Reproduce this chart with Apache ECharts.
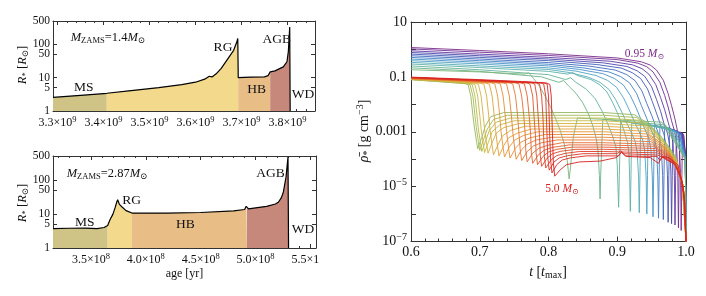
<!DOCTYPE html>
<html><head><meta charset="utf-8">
<script src="https://cdn.jsdelivr.net/npm/echarts@6/dist/echarts.min.js"></script>
<style>html,body{margin:0;padding:0;background:#fff}#c{width:706px;height:296px}</style>
</head><body><div id="c"></div>
<script>
const SERIF = "'Liberation Serif','DejaVu Serif','Times New Roman',serif";

// ---------- Left panels: stellar radius vs age ----------
const phaseNames = ['MS', 'RG', 'HB', 'AGB'];
const phaseColors = ['#cfc486', '#f3d98b', '#e8bd86', '#c5887a'];

// M_ZAMS = 1.4 Msun
const topAge = [3.29e9, 3.35e9, 3.407e9, 3.46e9, 3.52e9, 3.57e9, 3.60e9, 3.62e9, 3.63e9, 3.636e9, 3.645e9, 3.656e9, 3.668e9, 3.683e9, 3.69e9, 3.692e9, 3.693e9, 3.72e9, 3.75e9, 3.758e9, 3.7625e9, 3.773e9, 3.791e9, 3.799e9, 3.802e9, 3.805e9, 3.806e9, 3.806e9];
const topRadius = [2.56, 2.95, 3.4, 4.1, 5.0, 6.2, 7.3, 9.0, 11.0, 10.5, 13, 19, 33, 66, 120, 150, 10, 10.4, 10.6, 11.5, 14.9, 16, 21, 30, 60, 330, 330, 1];
const topPhaseEdges = [3.29e9, 3.407e9, 3.693e9, 3.7625e9, 3.806e9];
const topXTicks = [3.3e9, 3.4e9, 3.5e9, 3.6e9, 3.7e9, 3.8e9];
const topXLabels = ['3.3', '3.4', '3.5', '3.6', '3.7', '3.8'];
const topXExp = '9';

// M_ZAMS = 2.87 Msun
const botAge = [3.155e8, 3.3e8, 3.45e8, 3.556e8, 3.62e8, 3.653e8, 3.672e8, 3.684e8, 3.69e8, 3.70e8, 3.72e8, 3.735e8, 3.744e8, 3.76e8, 3.784e8, 3.82e8, 3.874e8, 4.19e8, 4.5e8, 4.8e8, 4.9e8, 4.914e8, 4.92e8, 4.936e8, 5.0e8, 5.10e8, 5.18e8, 5.207e8, 5.235e8, 5.253e8, 5.277e8, 5.295e8, 5.30e8, 5.30e8];
const botRadius = [3.7, 3.8, 3.85, 3.7, 4.0, 4.6, 6.5, 7.8, 8.2, 9.7, 15, 22, 26, 19, 16, 12.5, 10.6, 10.6, 11, 12.2, 13.5, 16.7, 15, 14, 15, 16.7, 19.5, 22, 30, 44, 120, 465, 480, 1];
const botPhaseEdges = [3.155e8, 3.653e8, 3.874e8, 4.92e8, 5.30e8];
const botXTicks = [3.5e8, 4.0e8, 4.5e8, 5.0e8, 5.5e8];
const botXLabels = ['3.5', '4.0', '4.5', '5.0', '5.5'];
const botXExp = '8';

const radiusTicks = [1, 5, 10, 50, 100, 500];

// ---------- Right panel: mean density vs t/t_max, [t, log10 rho] ----------
const m095 = [[0.6,0.07],[0.7,-0.04],[0.8,-0.16],[0.9,-0.31],[0.935,-0.45],[0.948,-0.57],[0.957,-0.75],[0.967,-1.12],[0.974,-1.61],[0.979,-2.05],[0.984,-2.54],[0.987,-2.9],[0.990,-3.3],[0.992,-4.5],[0.993,-6.6],[0.994,-4.6],[0.995,-3.05],[0.997,-3.15],[0.999,-3.8],[1.0,-7]];
const m105 = [[0.6,0.02],[0.7,-0.10],[0.8,-0.22],[0.9,-0.37],[0.93,-0.5],[0.943,-0.63],[0.952,-0.82],[0.962,-1.2],[0.969,-1.68],[0.974,-2.1],[0.979,-2.6],[0.983,-2.95],[0.986,-3.35],[0.988,-4.5],[0.989,-6.5],[0.990,-4.6],[0.991,-3.0],[0.996,-3.1],[0.999,-3.8],[1.0,-7]];
const m115 = [[0.6,-0.05],[0.7,-0.17],[0.8,-0.29],[0.89,-0.43],[0.922,-0.56],[0.936,-0.7],[0.946,-0.9],[0.956,-1.28],[0.963,-1.75],[0.969,-2.2],[0.974,-2.65],[0.978,-3.0],[0.981,-3.4],[0.983,-4.5],[0.984,-6.4],[0.985,-4.6],[0.986,-2.95],[0.995,-3.1],[0.999,-3.8],[1.0,-7]];
const m125 = [[0.6,-0.11],[0.7,-0.23],[0.8,-0.35],[0.88,-0.49],[0.914,-0.62],[0.929,-0.78],[0.94,-0.98],[0.95,-1.36],[0.957,-1.82],[0.963,-2.25],[0.968,-2.7],[0.973,-3.05],[0.976,-3.45],[0.978,-4.5],[0.979,-6.35],[0.980,-4.6],[0.981,-2.9],[0.994,-3.1],[0.999,-3.85],[1.0,-7]];
const m135 = [[0.6,-0.17],[0.7,-0.29],[0.8,-0.41],[0.87,-0.55],[0.906,-0.68],[0.922,-0.85],[0.934,-1.06],[0.944,-1.44],[0.951,-1.9],[0.957,-2.32],[0.963,-2.75],[0.968,-3.1],[0.971,-3.5],[0.973,-4.55],[0.974,-6.3],[0.975,-4.6],[0.976,-2.86],[0.993,-3.1],[0.999,-3.85],[1.0,-7]];
const m145 = [[0.6,-0.23],[0.7,-0.35],[0.8,-0.48],[0.86,-0.61],[0.897,-0.75],[0.914,-0.92],[0.926,-1.14],[0.936,-1.52],[0.943,-1.97],[0.95,-2.4],[0.956,-2.8],[0.961,-3.15],[0.964,-3.55],[0.966,-4.6],[0.967,-6.2],[0.968,-4.6],[0.969,-2.82],[0.992,-3.05],[0.999,-3.9],[1.0,-7]];
const m155 = [[0.6,-0.29],[0.7,-0.41],[0.8,-0.54],[0.85,-0.67],[0.888,-0.82],[0.905,-0.99],[0.918,-1.22],[0.928,-1.6],[0.935,-2.04],[0.942,-2.46],[0.948,-2.85],[0.954,-3.2],[0.957,-3.6],[0.959,-4.65],[0.960,-6.15],[0.961,-4.6],[0.962,-2.78],[0.99,-3.05],[0.999,-3.9],[1.0,-7]];
const m165 = [[0.6,-0.35],[0.7,-0.47],[0.8,-0.60],[0.845,-0.73],[0.879,-0.88],[0.896,-1.06],[0.909,-1.3],[0.919,-1.68],[0.927,-2.1],[0.934,-2.52],[0.94,-2.9],[0.946,-3.25],[0.949,-3.65],[0.951,-4.65],[0.952,-6.1],[0.953,-4.6],[0.954,-2.75],[0.988,-3.0],[0.999,-3.9],[1.0,-7]];
const m175 = [[0.6,-0.41],[0.7,-0.53],[0.8,-0.67],[0.84,-0.79],[0.869,-0.95],[0.886,-1.13],[0.899,-1.38],[0.909,-1.76],[0.917,-2.18],[0.924,-2.58],[0.931,-2.95],[0.937,-3.3],[0.94,-3.7],[0.942,-4.65],[0.943,-6.0],[0.944,-4.6],[0.945,-2.72],[0.985,-3.0],[0.999,-3.95],[1.0,-7]];
const m185 = [[0.6,-0.47],[0.7,-0.60],[0.8,-0.73],[0.83,-0.84],[0.858,-1.01],[0.875,-1.2],[0.888,-1.46],[0.898,-1.84],[0.906,-2.25],[0.913,-2.64],[0.92,-3.0],[0.926,-3.35],[0.929,-3.75],[0.931,-4.65],[0.932,-5.95],[0.933,-4.6],[0.934,-2.7],[0.982,-2.95],[0.999,-3.95],[1.0,-7]];
const m195 = [[0.6,-0.53],[0.7,-0.66],[0.8,-0.80],[0.828,-0.9],[0.835,-0.84],[0.842,-0.95],[0.862,-1.1],[0.875,-1.3],[0.885,-1.55],[0.893,-1.92],[0.9,-2.3],[0.906,-2.68],[0.911,-3.05],[0.915,-3.4],[0.917,-3.8],[0.918,-4.65],[0.919,-5.9],[0.920,-4.6],[0.921,-2.68],[0.978,-2.9],[0.999,-4.0],[1.0,-7]];
const m200 = [[0.6,-0.60],[0.7,-0.74],[0.8,-0.92],[0.825,-1.1],[0.832,-1.03],[0.84,-1.2],[0.855,-1.45],[0.868,-1.8],[0.878,-2.25],[0.886,-2.7],[0.893,-3.15],[0.898,-3.55],[0.900,-4.2],[0.901,-5.0],[0.902,-5.75],[0.903,-4.6],[0.905,-2.62],[0.975,-2.85],[0.999,-4.0],[1.0,-7]];
const m210 = [[0.6,-0.67],[0.7,-0.8],[0.79,-1.0],[0.815,-1.2],[0.822,-1.13],[0.83,-1.35],[0.84,-1.6],[0.85,-1.95],[0.858,-2.35],[0.864,-2.75],[0.869,-3.2],[0.872,-3.7],[0.874,-4.6],[0.875,-5.45],[0.876,-4.5],[0.879,-2.55],[0.97,-2.75],[0.999,-4.0],[1.0,-7]];
const m220 = [[0.6,-0.74],[0.7,-0.82],[0.765,-0.9],[0.771,-0.85],[0.778,-1.05],[0.787,-1.35],[0.795,-1.7],[0.803,-2.1],[0.81,-2.5],[0.817,-2.95],[0.823,-3.45],[0.827,-4.0],[0.83,-4.72],[0.832,-4.3],[0.836,-3.2],[0.842,-2.5],[0.965,-2.65],[0.999,-4.0],[1.0,-7]];
const m230 = [[0.6,-1.10],[0.643,-1.18],[0.678,-1.24],[0.683,-1.28],[0.687,-1.7],[0.690,-2.4],[0.692,-2.8],[0.695,-3.3],[0.697,-3.62],[0.703,-3.2],[0.708,-2.8],[0.716,-2.45],[0.735,-2.3],[0.88,-2.3],[0.925,-2.38],[0.945,-2.7],[0.965,-3.2],[0.985,-3.9],[0.995,-5],[1.0,-7]];
const m245 = [[0.6,-1.10],[0.646,-1.18],[0.681,-1.25],[0.686,-1.29],[0.690,-1.7],[0.693,-2.4],[0.695,-2.85],[0.698,-3.35],[0.700,-3.68],[0.706,-3.25],[0.711,-2.9],[0.72,-2.55],[0.74,-2.4],[0.88,-2.4],[0.928,-2.48],[0.948,-2.8],[0.967,-3.3],[0.986,-4.0],[0.995,-5],[1.0,-7]];
const m260 = [[0.6,-1.09],[0.649,-1.17],[0.684,-1.24],[0.689,-1.28],[0.693,-1.7],[0.696,-2.4],[0.698,-2.9],[0.701,-3.4],[0.703,-3.72],[0.709,-3.3],[0.714,-2.95],[0.724,-2.65],[0.745,-2.5],[0.88,-2.5],[0.931,-2.58],[0.951,-2.9],[0.969,-3.4],[0.986,-4.05],[0.995,-5],[1.0,-7]];
const m275 = [[0.6,-1.09],[0.653,-1.17],[0.688,-1.24],[0.693,-1.28],[0.697,-1.7],[0.700,-2.4],[0.702,-2.9],[0.705,-3.42],[0.707,-3.76],[0.713,-3.35],[0.718,-3.0],[0.729,-2.75],[0.75,-2.6],[0.88,-2.6],[0.934,-2.68],[0.953,-3.0],[0.971,-3.5],[0.987,-4.1],[0.995,-5],[1.0,-7]];
const m290 = [[0.6,-1.08],[0.658,-1.16],[0.693,-1.23],[0.698,-1.27],[0.702,-1.7],[0.705,-2.4],[0.707,-2.9],[0.710,-3.45],[0.712,-3.78],[0.718,-3.4],[0.724,-3.05],[0.735,-2.85],[0.757,-2.7],[0.88,-2.7],[0.937,-2.78],[0.955,-3.1],[0.972,-3.6],[0.987,-4.15],[0.995,-5],[1.0,-7]];
const m305 = [[0.6,-1.08],[0.666,-1.16],[0.701,-1.23],[0.706,-1.27],[0.710,-1.7],[0.713,-2.4],[0.715,-2.95],[0.718,-3.5],[0.720,-3.84],[0.727,-3.45],[0.733,-3.15],[0.745,-2.95],[0.766,-2.8],[0.88,-2.8],[0.939,-2.88],[0.957,-3.2],[0.973,-3.65],[0.988,-4.2],[0.995,-5],[1.0,-7]];
const m320 = [[0.6,-1.07],[0.674,-1.16],[0.709,-1.23],[0.714,-1.27],[0.718,-1.7],[0.721,-2.4],[0.723,-2.95],[0.726,-3.55],[0.728,-3.88],[0.735,-3.5],[0.742,-3.22],[0.755,-3.05],[0.775,-2.9],[0.88,-2.9],[0.941,-2.98],[0.958,-3.3],[0.974,-3.7],[0.988,-4.25],[0.996,-5],[1.0,-7]];
const m335 = [[0.6,-1.07],[0.682,-1.16],[0.717,-1.22],[0.722,-1.26],[0.726,-1.7],[0.729,-2.4],[0.731,-3.0],[0.734,-3.58],[0.736,-3.92],[0.743,-3.55],[0.751,-3.3],[0.764,-3.13],[0.785,-3.0],[0.88,-3.0],[0.943,-3.08],[0.96,-3.35],[0.975,-3.75],[0.989,-4.3],[0.996,-5],[1.0,-7]];
const m350 = [[0.6,-1.06],[0.69,-1.16],[0.725,-1.22],[0.730,-1.26],[0.734,-1.7],[0.737,-2.4],[0.739,-3.0],[0.742,-3.6],[0.744,-3.96],[0.752,-3.6],[0.76,-3.38],[0.773,-3.22],[0.795,-3.1],[0.88,-3.1],[0.945,-3.17],[0.961,-3.42],[0.976,-3.8],[0.989,-4.35],[0.996,-5],[1.0,-7]];
const m365 = [[0.6,-1.06],[0.699,-1.17],[0.734,-1.22],[0.739,-1.26],[0.743,-1.7],[0.746,-2.4],[0.748,-3.0],[0.751,-3.65],[0.753,-4.0],[0.761,-3.65],[0.769,-3.45],[0.782,-3.3],[0.805,-3.2],[0.88,-3.2],[0.947,-3.26],[0.962,-3.5],[0.977,-3.85],[0.99,-4.4],[0.996,-5],[1.0,-7]];
const m380 = [[0.6,-1.05],[0.708,-1.17],[0.743,-1.22],[0.748,-1.26],[0.752,-1.7],[0.755,-2.4],[0.757,-3.05],[0.759,-3.7],[0.761,-4.05],[0.769,-3.72],[0.778,-3.52],[0.79,-3.4],[0.812,-3.3],[0.88,-3.3],[0.949,-3.36],[0.963,-3.58],[0.978,-3.9],[0.99,-4.45],[0.996,-5],[1.0,-7]];
const m395 = [[0.6,-1.05],[0.717,-1.17],[0.752,-1.22],[0.757,-1.26],[0.761,-1.7],[0.764,-2.4],[0.766,-3.05],[0.767,-3.7],[0.769,-4.1],[0.777,-3.78],[0.786,-3.6],[0.798,-3.5],[0.82,-3.4],[0.88,-3.4],[0.951,-3.45],[0.964,-3.65],[0.979,-3.95],[0.991,-4.5],[0.997,-5.2],[1.0,-7]];
const m410 = [[0.6,-1.04],[0.725,-1.17],[0.760,-1.22],[0.765,-1.26],[0.769,-1.7],[0.772,-2.45],[0.774,-3.1],[0.775,-3.75],[0.777,-4.15],[0.785,-3.85],[0.794,-3.67],[0.806,-3.57],[0.83,-3.48],[0.88,-3.48],[0.953,-3.53],[0.965,-3.72],[0.98,-4.0],[0.991,-4.55],[0.997,-5.2],[1.0,-7]];
const m425 = [[0.6,-1.04],[0.733,-1.18],[0.768,-1.22],[0.773,-1.26],[0.777,-1.7],[0.779,-2.45],[0.781,-3.15],[0.782,-3.8],[0.784,-4.2],[0.792,-3.9],[0.8,-3.74],[0.812,-3.64],[0.835,-3.56],[0.88,-3.56],[0.955,-3.61],[0.966,-3.78],[0.981,-4.05],[0.992,-4.6],[0.997,-5.2],[1.0,-7]];
const m440 = [[0.6,-1.03],[0.74,-1.18],[0.775,-1.22],[0.780,-1.26],[0.783,-1.7],[0.785,-2.45],[0.787,-3.2],[0.788,-3.85],[0.790,-4.26],[0.798,-3.96],[0.806,-3.8],[0.818,-3.71],[0.84,-3.64],[0.88,-3.64],[0.957,-3.69],[0.967,-3.85],[0.982,-4.1],[0.992,-4.65],[0.997,-5.3],[1.0,-7]];
const m455 = [[0.6,-1.03],[0.747,-1.18],[0.782,-1.22],[0.787,-1.26],[0.790,-1.7],[0.792,-2.5],[0.793,-3.2],[0.794,-3.9],[0.796,-4.32],[0.804,-4.02],[0.812,-3.87],[0.824,-3.79],[0.845,-3.72],[0.88,-3.72],[0.958,-3.77],[0.968,-3.92],[0.983,-4.15],[0.993,-4.7],[0.997,-5.3],[1.0,-7]];
const m470 = [[0.6,-1.02],[0.753,-1.18],[0.788,-1.22],[0.793,-1.26],[0.796,-1.7],[0.797,-2.5],[0.798,-3.25],[0.799,-3.95],[0.801,-4.4],[0.808,-4.1],[0.816,-3.95],[0.828,-3.87],[0.85,-3.8],[0.9,-3.8],[0.905,-3.7],[0.91,-3.8],[0.959,-3.85],[0.969,-3.98],[0.984,-4.2],[0.993,-4.75],[0.998,-5.5],[1.0,-7]];
const m485 = [[0.6,-1.02],[0.758,-1.18],[0.793,-1.22],[0.798,-1.26],[0.800,-1.7],[0.801,-2.5],[0.802,-3.3],[0.803,-4.0],[0.805,-4.5],[0.812,-4.2],[0.82,-4.03],[0.832,-3.95],[0.855,-3.88],[0.902,-3.88],[0.906,-3.75],[0.912,-3.88],[0.958,-3.9],[0.962,-4.05],[0.966,-3.92],[0.985,-4.2],[0.994,-4.8],[0.998,-5.5],[1.0,-7]];
const m500 = [[0.6,-1.01],[0.70,-1.1],[0.762,-1.17],[0.797,-1.22],[0.802,-1.28],[0.804,-1.7],[0.805,-2.5],[0.806,-3.3],[0.807,-4.1],[0.809,-4.62],[0.817,-4.39],[0.826,-4.2],[0.845,-4.1],[0.875,-4.07],[0.899,-3.94],[0.906,-3.74],[0.913,-3.9],[0.948,-3.94],[0.96,-4.15],[0.965,-3.9],[0.975,-3.95],[0.988,-4.2],[0.995,-4.9],[0.998,-5.6],[1.0,-7]];

const tracks = [m095, m105, m115, m125, m135, m145, m155, m165, m175, m185, m195, m200, m210, m220,
  m230, m245, m260, m275, m290, m305, m320, m335, m350, m365, m380, m395, m410, m425, m440, m455, m470, m485, m500];
const trackColors = ['#7b2b8a','#6f2f95','#5e38a2','#4c47ad','#4259b6','#3f6cc0','#4280c6','#4892c8','#50a2c4','#58acb8','#5eb0a8','#64b298','#6cb38a','#7cb67a',
  '#92b85e','#a6ba52','#b8bb48','#c8b942','#d4b33e','#dca93b','#e2a039','#e69637','#e88c35','#e88233','#e87831','#e66c2f','#e4602d','#e2542b','#e04829','#de3e27','#dc3425','#da2a23','#d92120'];

const rhoTicks = [1e-7, 1e-6, 1e-5, 1e-4, 1e-3, 1e-2, 1e-1, 1, 10];
const rhoLabelValues = [10, 0.1, 0.001, 1e-5, 1e-7];
const rhoLabels = ['10', '0.1', '0.001', '10{sup|−5}', '10{sup|−7}'];
const tTicks = [0.6, 0.7, 0.8, 0.9, 1.0];
const tLabels = ['0.6', '0.7', '0.8', '0.9', '1.0'];

// ---------- helpers ----------
function steps(a, b, d) { const o = []; for (let v = a; v <= b + d * 1e-6; v += d) o.push(+v.toPrecision(10)); return o; }
function idxOf(arr, v, log) {
  for (let i = 0; i < arr.length; i++) {
    if (log ? Math.abs(Math.log10(arr[i]) - Math.log10(v)) < 1e-6 : Math.abs(arr[i] - v) <= Math.abs(v) * 1e-9) return i;
  }
  return -1;
}
const LC = '#333';
const tickStyle = { color: LC, width: 1 };

function xAxisSet(grid, min, max, majors, minors, labelFn) {
  return [
    { gridIndex: grid, type: 'value', min, max, position: 'bottom',
      axisLine: { show: true, onZero: false, lineStyle: { color: LC } },
      axisTick: { show: true, inside: true, length: 4, customValues: majors, lineStyle: tickStyle },
      axisLabel: { show: true, customValues: majors, formatter: labelFn, fontFamily: SERIF, fontSize: 12, color: '#111', margin: 4,
        rich: { sup: { fontFamily: SERIF, fontSize: 8.5, color: '#111', padding: [0, 0, 7, 0] } } },
      splitLine: { show: false } },
    { gridIndex: grid, type: 'value', min, max, position: 'bottom',
      axisLine: { show: false }, axisLabel: { show: false }, splitLine: { show: false },
      axisTick: { show: true, inside: true, length: 2, customValues: minors, lineStyle: tickStyle } },
    { gridIndex: grid, type: 'value', min, max, position: 'top',
      axisLine: { show: true, onZero: false, lineStyle: { color: LC } }, axisLabel: { show: false }, splitLine: { show: false },
      axisTick: { show: true, inside: true, length: 4, customValues: majors, lineStyle: tickStyle } },
    { gridIndex: grid, type: 'value', min, max, position: 'top',
      axisLine: { show: false }, axisLabel: { show: false }, splitLine: { show: false },
      axisTick: { show: true, inside: true, length: 2, customValues: minors, lineStyle: tickStyle } }
  ];
}
function radiusAxes(grid) {
  return [
    { gridIndex: grid, type: 'log', logBase: 10, min: 1, max: 500, position: 'left',
      axisLine: { show: true, onZero: false, lineStyle: { color: LC } },
      axisTick: { show: true, inside: true, length: 4, customValues: radiusTicks, lineStyle: tickStyle },
      axisLabel: { show: true, customValues: radiusTicks, formatter: v => String(radiusTicks[idxOf(radiusTicks, v, true)]),
        fontFamily: SERIF, fontSize: 11.5, color: '#111', margin: 3 },
      splitLine: { show: false } },
    { gridIndex: grid, type: 'log', logBase: 10, min: 1, max: 500, position: 'right',
      axisLine: { show: true, onZero: false, lineStyle: { color: LC } }, axisLabel: { show: false }, splitLine: { show: false },
      axisTick: { show: true, inside: true, length: 4, customValues: radiusTicks, lineStyle: tickStyle } }
  ];
}
const topFmt = v => topXLabels[idxOf(topXTicks, v)] + '×10{sup|' + topXExp + '}';
const botFmt = v => botXLabels[idxOf(botXTicks, v)] + '×10{sup|' + botXExp + '}';

const xAxes = [].concat(
  xAxisSet(0, 3.29e9, 3.86e9, topXTicks, steps(3.30e9, 3.86e9, 0.02e9), topFmt),
  xAxisSet(1, 3.155e8, 5.55e8, botXTicks, steps(3.2e8, 5.5e8, 0.1e8), botFmt),
  [
    { gridIndex: 2, type: 'value', min: 0.6, max: 1.0, interval: 0.1, position: 'bottom',
      axisLine: { show: true, onZero: false, lineStyle: { color: LC } },
      axisTick: { show: true, inside: true, length: 5, lineStyle: tickStyle },
      minorTick: { show: true, splitNumber: 5, length: 3, lineStyle: tickStyle },
      axisLabel: { show: true, formatter: v => tLabels[idxOf(tTicks, v)], fontFamily: SERIF, fontSize: 14, color: '#111', margin: 4 },
      splitLine: { show: false } },
    { gridIndex: 2, type: 'value', min: 0.6, max: 1.0, interval: 0.1, position: 'top',
      axisLine: { show: true, onZero: false, lineStyle: { color: LC } },
      axisTick: { show: true, inside: true, length: 5, lineStyle: tickStyle },
      minorTick: { show: true, splitNumber: 5, length: 3, lineStyle: tickStyle },
      axisLabel: { show: false }, splitLine: { show: false } }
  ]
);
const yAxes = [].concat(
  radiusAxes(0), radiusAxes(1),
  [
    { gridIndex: 2, type: 'log', logBase: 10, min: 1e-7, max: 10, position: 'left',
      axisLine: { show: true, onZero: false, lineStyle: { color: LC } },
      axisTick: { show: true, inside: true, length: 5, customValues: rhoTicks, lineStyle: tickStyle },
      axisLabel: { show: true, customValues: rhoLabelValues, formatter: v => rhoLabels[idxOf(rhoLabelValues, v, true)],
        fontFamily: SERIF, fontSize: 14, color: '#111', margin: 4,
        rich: { sup: { fontFamily: SERIF, fontSize: 10, color: '#111', padding: [0, 0, 8, 0] } } },
      splitLine: { show: false } },
    { gridIndex: 2, type: 'log', logBase: 10, min: 1e-7, max: 10, position: 'right',
      axisLine: { show: true, onZero: false, lineStyle: { color: LC } },
      axisTick: { show: true, inside: true, length: 5, customValues: rhoTicks, lineStyle: tickStyle },
      axisLabel: { show: false }, splitLine: { show: false } }
  ]
);

function radiusSeries(age, rad, edges, xi, yi) {
  const out = [];
  for (let k = 0; k < phaseNames.length; k++) {
    const pts = [];
    for (let i = 0; i < age.length; i++) {
      if (age[i] >= edges[k] && age[i] <= edges[k + 1]) pts.push([age[i], rad[i]]);
    }
    out.push({ type: 'line', name: phaseNames[k], xAxisIndex: xi, yAxisIndex: yi, data: pts, showSymbol: false, silent: true,
      lineStyle: { width: 0 }, areaStyle: { color: phaseColors[k], opacity: 1, origin: 'start' }, z: 1 });
  }
  out.push({ type: 'line', xAxisIndex: xi, yAxisIndex: yi, data: age.map((a, i) => [a, rad[i]]), showSymbol: false, silent: true,
    lineStyle: { color: '#000', width: 1.2 }, z: 3 });
  return out;
}

const series = [].concat(
  radiusSeries(topAge, topRadius, topPhaseEdges, 0, 0),
  radiusSeries(botAge, botRadius, botPhaseEdges, 4, 2),
  tracks.map((trk, i) => ({
    type: 'line', xAxisIndex: 8, yAxisIndex: 4, showSymbol: false, silent: true, clip: true,
    data: trk.map(p => [p[0], Math.pow(10, p[1])]),
    lineStyle: { color: trackColors[i], width: 1, opacity: 0.9 }, z: 2
  }))
);

const txt = '#111';
const richBase = {
  i: { fontFamily: SERIF, fontStyle: 'italic', fontSize: 12.5, fill: txt },
  n: { fontFamily: SERIF, fontSize: 12.5, fill: txt },
  s: { fontFamily: SERIF, fontSize: 8.5, fill: txt, padding: [6, 0, 0, 0] }
};
function T(x, y, text, size, extra) {
  return Object.assign({ type: 'text', x, y, z: 100, silent: true,
    style: { text, fontFamily: SERIF, fontSize: size, fill: txt, align: 'center', verticalAlign: 'middle' } }, extra || {});
}
const graphic = [
  // clip overflow of the bottom-left tick label like the original image crop
  { type: 'rect', shape: { x: 319, y: 249, width: 30, height: 14 }, style: { fill: '#fff' }, z: 90, silent: true },
  { type: 'text', x: 70.7, y: 37.5, z: 100, silent: true,
    style: { text: '{i|M}{s|ZAMS}{n|=1.4}{i|M}{s|⊙}', rich: richBase, align: 'left', verticalAlign: 'middle' } },
  { type: 'text', x: 66.7, y: 173.7, z: 100, silent: true,
    style: { text: '{i|M}{s|ZAMS}{n|=2.87}{i|M}{s|⊙}', rich: richBase, align: 'left', verticalAlign: 'middle' } },
  T(83.7, 87.5, 'MS', 13.5), T(223, 47.8, 'RG', 13.5), T(276.7, 39.5, 'AGB', 13.5), T(256.7, 89, 'HB', 13.5), T(303, 94.7, 'WD', 13.5),
  T(84.7, 222.8, 'MS', 13.5), T(131.7, 200.8, 'RG', 13.5), T(185.5, 224.7, 'HB', 13.5), T(270.5, 173.3, 'AGB', 13.5), T(303, 229.7, 'WD', 13.5),
  { type: 'text', x: 23, y: 65, rotation: Math.PI / 2, z: 100, silent: true,
    style: { text: '{i|R}{s|*} {n|[}{i|R}{s|⊙}{n|]}', rich: richBase, align: 'center', verticalAlign: 'middle' } },
  { type: 'text', x: 23, y: 203, rotation: Math.PI / 2, z: 100, silent: true,
    style: { text: '{i|R}{s|*} {n|[}{i|R}{s|⊙}{n|]}', rich: richBase, align: 'center', verticalAlign: 'middle' } },
  T(184.5, 273.5, 'age [yr]', 12),
  { type: 'text', x: 364, y: 131, rotation: Math.PI / 2, z: 100, silent: true,
    style: { text: '{i|ρ̄}{s|*} {n|[g cm}{p|−3}{n|]}', align: 'center', verticalAlign: 'middle',
      rich: { i: { fontFamily: SERIF, fontStyle: 'italic', fontSize: 14, fill: txt }, n: { fontFamily: SERIF, fontSize: 14, fill: txt },
        s: { fontFamily: SERIF, fontSize: 10, fill: txt, padding: [7, 0, 0, 0] }, p: { fontFamily: SERIF, fontSize: 10, fill: txt, padding: [0, 0, 8, 0] } } } },
  { type: 'text', x: 548, y: 272, z: 100, silent: true,
    style: { text: '{i|t} {n|[}{i|t}{s|max}{n|]}', align: 'center', verticalAlign: 'middle',
      rich: { i: { fontFamily: SERIF, fontStyle: 'italic', fontSize: 14, fill: txt }, n: { fontFamily: SERIF, fontSize: 14, fill: txt },
        s: { fontFamily: SERIF, fontSize: 10, fill: txt, padding: [7, 0, 0, 0] } } } },
  { type: 'text', x: 644.5, y: 54.3, z: 100, silent: true,
    style: { text: '{n|0.95 }{i|M}{s|⊙}', align: 'center', verticalAlign: 'middle',
      rich: { n: { fontFamily: SERIF, fontSize: 11.5, fill: '#7b2b8a' }, i: { fontFamily: SERIF, fontStyle: 'italic', fontSize: 11.5, fill: '#7b2b8a' },
        s: { fontFamily: SERIF, fontSize: 8, fill: '#7b2b8a', padding: [5, 0, 0, 0] } } } },
  { type: 'text', x: 562, y: 189, z: 100, silent: true,
    style: { text: '{n|5.0 }{i|M}{s|⊙}', align: 'center', verticalAlign: 'middle',
      rich: { n: { fontFamily: SERIF, fontSize: 11.5, fill: '#d92120' }, i: { fontFamily: SERIF, fontStyle: 'italic', fontSize: 11.5, fill: '#d92120' },
        s: { fontFamily: SERIF, fontSize: 8, fill: '#d92120', padding: [5, 0, 0, 0] } } } }
];

const chart = echarts.init(document.getElementById('c'), null, { renderer: 'canvas', width: 706, height: 296 });
chart.setOption({
  animation: false,
  backgroundColor: '#fff',
  grid: [
    { left: 53, top: 21, width: 262, height: 90 },
    { left: 53, top: 156, width: 263, height: 92 },
    { left: 411, top: 22, width: 275, height: 219.5 }
  ],
  xAxis: xAxes,
  yAxis: yAxes,
  series,
  graphic
});
</script></body></html>
